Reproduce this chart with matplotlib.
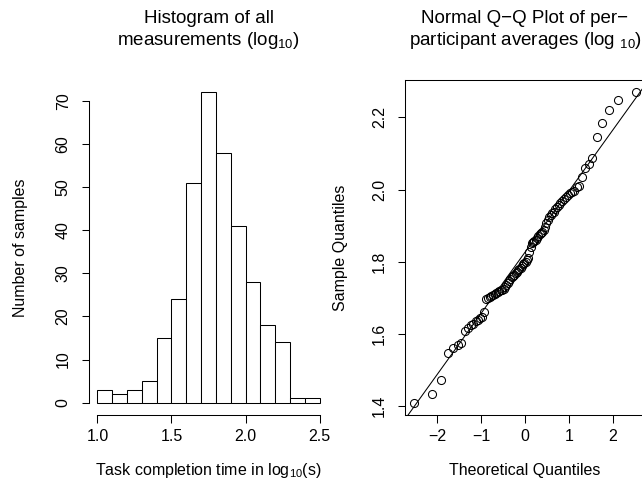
import matplotlib
matplotlib.use("Agg")
import matplotlib.pyplot as plt
import numpy as np
from statistics import NormalDist

plt.rcParams['font.family'] = ['Liberation Sans', 'DejaVu Sans']
plt.rcParams['mathtext.fontset'] = 'custom'
plt.rcParams['mathtext.rm'] = 'Liberation Sans'
plt.rcParams['mathtext.it'] = 'Liberation Sans:italic'
plt.rcParams['mathtext.bf'] = 'Liberation Sans:bold'

# ---- data ----
bin_edges = [1.0, 1.1, 1.2, 1.3, 1.4, 1.5, 1.6, 1.7, 1.8, 1.9, 2.0, 2.1, 2.2, 2.3, 2.4, 2.5]
hist_counts = [3, 2, 3, 5, 15, 24, 51, 72, 58, 41, 28, 18, 14, 1, 1]
hist_xticks = [1.0, 1.5, 2.0, 2.5]
hist_yticks = [0, 10, 20, 30, 40, 50, 60, 70]

sample_quantiles = [
    1.410, 1.434, 1.472, 1.547, 1.560, 1.569, 1.576, 1.609, 1.616, 1.624,
    1.629, 1.635, 1.640, 1.644, 1.648, 1.662, 1.698, 1.700, 1.702, 1.704,
    1.707, 1.710, 1.713, 1.716, 1.718, 1.721, 1.723, 1.725, 1.730, 1.737,
    1.741, 1.746, 1.751, 1.757, 1.761, 1.764, 1.768, 1.772, 1.776, 1.780,
    1.784, 1.789, 1.793, 1.797, 1.799, 1.804, 1.811, 1.826, 1.841, 1.853,
    1.855, 1.857, 1.861, 1.866, 1.872, 1.876, 1.879, 1.883, 1.889, 1.897,
    1.908, 1.915, 1.923, 1.929, 1.934, 1.939, 1.945, 1.951, 1.956, 1.962,
    1.967, 1.973, 1.980, 1.986, 1.990, 1.993, 1.997, 2.008, 2.011, 2.036,
    2.060, 2.070, 2.087, 2.146, 2.183, 2.220, 2.248, 2.269]
qq_xticks = [-2, -1, 0, 1, 2]
qq_yticks = [1.4, 1.6, 1.8, 2.0, 2.2]

title_left = "Histogram of all\nmeasurements (log$_{10}$)"
title_right = "Normal Q\u2212Q Plot of per\u2212\nparticipant averages (log $_{10}$)"
xlabel_left = "Task completion time in log$_{10}$(s)"
ylabel_left = "Number of samples"
xlabel_right = "Theoretical Quantiles"
ylabel_right = "Sample Quantiles"

# ---- figure ----
W, H = 642, 495
fig = plt.figure(figsize=(W / 100, H / 100), dpi=100)

def px_rect(x0, y0, x1, y1):
    return [x0 / W, (H - y1) / H, (x1 - x0) / W, (y1 - y0) / H]

ax1 = fig.add_axes(px_rect(88.6, 80, 328.4, 415))
ax2 = fig.add_axes(px_rect(405, 80, 645, 415))

lw = 0.75
fs_tick = 11.5
fs_title = 13.5

def r_pad(lo, hi):
    d = (hi - lo) * 0.04
    return lo - d, hi + d

# Histogram
edges = np.array(bin_edges)
ax1.bar(edges[:-1], hist_counts, width=np.diff(edges), align='edge',
        facecolor='white', edgecolor='black', linewidth=lw)
ax1.set_xlim(*r_pad(bin_edges[0], bin_edges[-1]))
ax1.set_ylim(*r_pad(0, max(hist_counts)))
ax1.set_xticks(hist_xticks)
ax1.set_yticks(hist_yticks)
for s in ['top', 'right']:
    ax1.spines[s].set_visible(False)
ax1.spines['left'].set_bounds(hist_yticks[0], hist_yticks[-1])
ax1.spines['bottom'].set_bounds(hist_xticks[0], hist_xticks[-1])

# QQ plot
n = len(sample_quantiles)
theo = np.array([NormalDist().inv_cdf((i + 0.5) / n) for i in range(n)])
samp = np.sort(np.array(sample_quantiles))
ax2.plot(theo, samp, linestyle='none', marker='o', markersize=5.8,
         markerfacecolor='none', markeredgecolor='black', markeredgewidth=0.75)
q1, q3 = np.percentile(samp, [25, 75])
t1, t3 = NormalDist().inv_cdf(0.25), NormalDist().inv_cdf(0.75)
slope = (q3 - q1) / (t3 - t1)
ax2.axline((t1, q1), slope=slope, color='black', linewidth=lw)
ax2.set_xlim(*r_pad(theo.min(), theo.max()))
ax2.set_ylim(*r_pad(samp.min(), samp.max()))
ax2.set_xticks(qq_xticks)
ax2.set_yticks(qq_yticks)

for ax in (ax1, ax2):
    for s in ax.spines.values():
        s.set_linewidth(lw)
    ax.tick_params(axis='both', direction='out', length=5.4, width=lw,
                   labelsize=fs_tick, colors='black')
    ax.tick_params(axis='x', pad=4.5)
    ax.tick_params(axis='y', pad=7.5, labelrotation=90)
    for lab in ax.get_yticklabels():
        lab.set_va('center')

ax1.text(0.5, 1.148, title_left, transform=ax1.transAxes, ha='center',
         va='center', fontsize=fs_title, linespacing=1.25)
ax2.text(0.5, 1.148, title_right, transform=ax2.transAxes, ha='center',
         va='center', fontsize=fs_title, linespacing=1.25)

ax1.set_xlabel(xlabel_left, fontsize=fs_tick, va='center')
ax1.xaxis.set_label_coords(0.5, (415 - 470) / 335)
ax1.set_ylabel(ylabel_left, fontsize=fs_tick, va='center')
ax1.yaxis.set_label_coords((20 - 88.6) / 239.8, 0.5)
ax2.set_xlabel(xlabel_right, fontsize=fs_tick, va='center')
ax2.xaxis.set_label_coords(0.5, (415 - 471) / 335)
ax2.set_ylabel(ylabel_right, fontsize=fs_tick, va='center')
ax2.yaxis.set_label_coords((340 - 405) / 240, 0.5)

fig.savefig("out.png", dpi=100)
